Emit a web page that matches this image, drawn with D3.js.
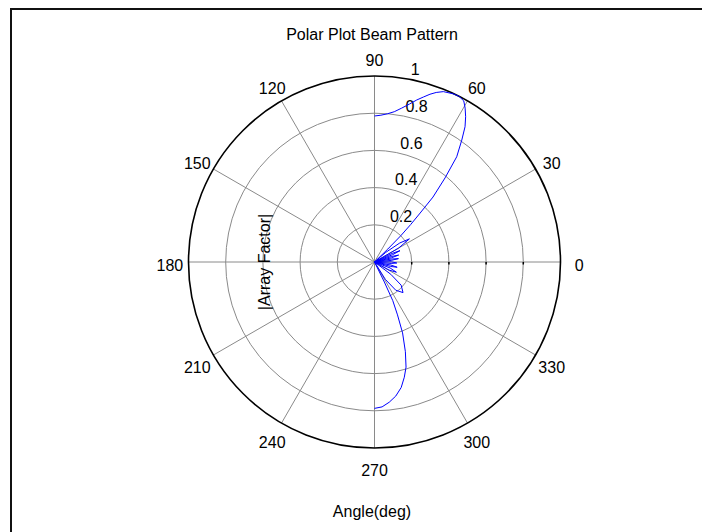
<!DOCTYPE html>
<html>
<head>
<meta charset="utf-8">
<script src="https://cdn.jsdelivr.net/npm/d3@7"></script>
<style>
  body { margin: 0; background: #fff; }
  text { font-family: "Liberation Sans", Arial, sans-serif; font-size: 16px; fill: #000; }
</style>
</head>
<body>
<div id="chart"></div>
<script>
// beam pattern: angle in degrees, |AF| normalised
var angleDeg = [-90, -87, -84, -81, -78, -75.5, -73.3, -71, -68.4, -66.5, -64.7, -63.8, -63,
  -58, -53, -47, -41, -37, -33,
  -29, -25, -21, -18,
  -15.5, -13, -10.5, -8,
  -5, -2.5, 0.5, 3,
  5.5, 8, 10, 12,
  14, 16, 18, 20,
  22, 24, 26, 28,
  30, 33.5, 37, 40.5, 43.5,
  44.2, 45, 46, 47, 48, 50, 52, 54.4, 56.2, 57.9, 59.5, 61, 63, 65, 68, 70, 71.7,
  73.5, 75.4, 77.5, 80, 82.5, 85, 87.5, 90];
var arrayFactor = [0.787, 0.78, 0.758, 0.73, 0.69, 0.64, 0.59, 0.51, 0.41, 0.31, 0.23, 0.12, 0,
  0.11, 0.19, 0.225, 0.19, 0.11, 0,
  0.09, 0.13, 0.09, 0,
  0.09, 0.125, 0.09, 0,
  0.09, 0.12, 0.09, 0,
  0.09, 0.13, 0.09, 0,
  0.095, 0.135, 0.095, 0,
  0.105, 0.15, 0.105, 0,
  0.15, 0.225, 0.17, 0.08, 0,
  0.1, 0.2, 0.28, 0.36, 0.47, 0.59, 0.718, 0.806, 0.875, 0.922, 0.96, 0.99, 1.0, 0.998, 0.988, 0.97, 0.95,
  0.925, 0.9, 0.87, 0.84, 0.815, 0.8, 0.79, 0.785];

var ringTicks = [0.2, 0.4, 0.6, 0.8, 1];
var spokeLabels = [0, 30, 60, 90, 120, 150, 180, 210, 240, 270, 300, 330];

var titleText = "Polar Plot Beam Pattern";
var xLabel = "Angle(deg)";
var yLabel = "|Array Factor|";

var width = 702, height = 532;
var cx = 374.5, cy = 262, R = 186;

var r = d3.scaleLinear().domain([0, 1]).range([0, R]);
// math angle (ccw from east) -> d3 radial angle (cw from north)
var a = d3.scaleLinear().domain([0, 360]).range([Math.PI / 2, Math.PI / 2 - 2 * Math.PI]);

function px(deg, v) { return r(v) * Math.sin(a(deg)); }
function py(deg, v) { return -r(v) * Math.cos(a(deg)); }

var svg = d3.select("#chart").append("svg")
  .attr("width", width)
  .attr("height", height);

// figure frame (cut by the picture on the right and bottom)
svg.append("path")
  .attr("d", "M11," + height + "V9H" + width)
  .attr("fill", "none")
  .attr("stroke", "#111")
  .attr("stroke-width", 2);

var g = svg.append("g")
  .attr("transform", "translate(" + cx + "," + cy + ")");

g.append("circle")
  .attr("r", r(1))
  .attr("fill", "#fff");

// spokes every 30 deg, through the centre
g.selectAll(".spoke")
  .data(spokeLabels.slice(0, 6))
  .enter().append("line")
  .attr("class", "spoke")
  .attr("x1", function(d) { return px(d, 1); })
  .attr("y1", function(d) { return py(d, 1); })
  .attr("x2", function(d) { return px(d + 180, 1); })
  .attr("y2", function(d) { return py(d + 180, 1); })
  .attr("stroke", "#8a8a8a")
  .attr("stroke-width", 1);

g.selectAll(".ring")
  .data(ringTicks.slice(0, -1))
  .enter().append("circle")
  .attr("class", "ring")
  .attr("r", function(d) { return r(d); })
  .attr("fill", "none")
  .attr("stroke", "#8a8a8a")
  .attr("stroke-width", 1);

g.append("circle")
  .attr("r", r(1))
  .attr("fill", "none")
  .attr("stroke", "#000")
  .attr("stroke-width", 1.6);

// small ticks on the 0 deg spoke
g.selectAll(".tick")
  .data(ringTicks.slice(0, -1))
  .enter().append("line")
  .attr("class", "tick")
  .attr("x1", function(d) { return r(d); })
  .attr("x2", function(d) { return r(d); })
  .attr("y1", 0)
  .attr("y2", 2.5)
  .attr("stroke", "#000")
  .attr("stroke-width", 1.5);

// ring labels along 82 deg, like matlab polar
g.selectAll(".rlabel")
  .data(ringTicks)
  .enter().append("text")
  .attr("class", "rlabel")
  .attr("x", function(d) { return px(82, d + 0.01) + 10; })
  .attr("y", function(d) { return py(82, d + 0.01) - 1; })
  .text(function(d) { return d; });

// angle labels at 1.1 * rmax
g.selectAll(".alabel")
  .data(spokeLabels)
  .enter().append("text")
  .attr("class", "alabel")
  .attr("x", function(d) { return px(d, 1.1); })
  .attr("y", function(d) { return py(d, 1.1) + 9; })
  .attr("text-anchor", "middle")
  .text(function(d) { return d; });

var pts = angleDeg.map(function(d, i) { return [d, arrayFactor[i]]; });

var line = d3.lineRadial()
  .angle(function(d) { return a(d[0]); })
  .radius(function(d) { return r(d[1]); });

g.append("path")
  .datum(pts)
  .attr("d", line)
  .attr("fill", "none")
  .attr("stroke", "#0000ff")
  .attr("stroke-width", 1);

svg.append("text")
  .attr("x", 372)
  .attr("y", 40)
  .attr("text-anchor", "middle")
  .text(titleText);

svg.append("text")
  .attr("x", 372)
  .attr("y", 517)
  .attr("text-anchor", "middle")
  .text(xLabel);

svg.append("text")
  .attr("transform", "translate(270,262) rotate(-90)")
  .attr("text-anchor", "middle")
  .text(yLabel);
</script>
</body>
</html>
